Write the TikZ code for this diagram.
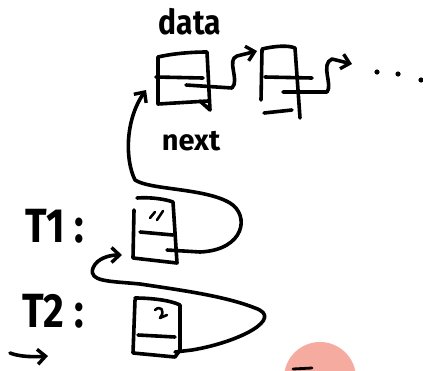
\documentclass[tikz,border=0pt]{standalone}
\usepackage{fontspec}
\setmainfont{Fira Sans}
\usetikzlibrary{arrows.meta}
\definecolor{blush}{RGB}{246,171,161}
\tikzset{
  pen/.style={line width=3.6pt, line cap=round, line join=round, black},
  ptr/.style={pen, -{Straight Barb[length=8pt,width=15pt,line width=3.4pt]}},
  hand/.style={font=\bfseries\fontsize{#1}{#1}\selectfont, inner sep=0pt, anchor=center},
}
\begin{document}
\begin{tikzpicture}[x=1pt, y=-1pt]
\useasboundingbox (0,0) rectangle (423,370);

% labels
\node[hand=30, yscale=1.15] (lbldata) at (190,22) {data};
\node[hand=29] (lblnext) at (191,141) {next};
\node[hand=40, yscale=1.2] (lblt1) at (55,226) {T1 :};
\node[hand=40, yscale=1.2] (lblt2) at (53,311) {T2 :};

% anchors on the sketched boxes
\coordinate (aIn) at (146,90);
\coordinate (aOut) at (186,85);
\coordinate (bIn) at (257,51);
\coordinate (bOut) at (283,92);
\coordinate (more) at (352,64);
\coordinate (tOneOut) at (167,250);
\coordinate (tOneIn) at (122,255);
\coordinate (tTwoOut) at (175,352);
\coordinate (cue) at (48,356);

% list node A
\draw[pen] (158,57) .. controls (175,53) and (195,52) .. (207,52) -- (210,110) -- (200,101);
\draw[pen] (158,57) -- (158,104) -- (208,101);
\draw[pen] (156,77) -- (203,78);
\draw[ptr] (aOut) -- (232,88) .. controls (240,80) and (226,60) .. (237,56) -- (bIn);

% list node B
\draw[pen] (262,49) .. controls (275,46) and (288,45) .. (295,48) -- (300,118);
\draw[pen] (262,50) -- (261,100);
\draw[pen] (265,77) -- (312,78);
\draw[pen] (264,113) -- (292,110);
\draw[ptr] (bOut) -- (327,92) .. controls (333,85) and (320,64) .. (332,59) -- (more);

% trailing dots
\fill (377,72) circle (2.6pt);
\fill (398,74) circle (2.6pt);
\fill (421,80) circle (2.6pt);

% box T1
\draw[pen] (137,198) .. controls (150,197) and (165,199) .. (173,202) -- (177,263) -- (133,258) -- (134,210);
\draw[pen] (140,232) -- (173,235);
\draw[pen, line width=2.6pt] (150,218) -- (155,212);
\draw[pen, line width=2.6pt] (157,220) -- (163,211);

% box T2
\draw[pen] (135,298) .. controls (150,298) and (170,300) .. (180,305) -- (180,350) -- (175,357) -- (133,353) -- (135,300);
\draw[pen] (138,335) -- (175,337);
\draw[pen, line width=2.6pt] (155,310) .. controls (160,305) and (166,310) .. (160,318) -- (167,315);

% T1 pointer back up to list node A
\draw[ptr] (tOneOut) -- (200,252) .. controls (245,250) and (250,215) .. (230,203)
  .. controls (205,188) and (150,190) .. (135,180)
  .. controls (125,160) and (125,120) .. (aIn);

% T2 pointer to T1
\draw[ptr] (tTwoOut) -- (192,350) .. controls (240,342) and (285,318) .. (255,308)
  .. controls (225,296) and (180,290) .. (140,284)
  .. controls (110,281) and (88,282) .. (93,268)
  .. controls (97,258) and (110,255) .. (tOneIn);

% small cue arrow
\draw[ptr] (10,353) .. controls (20,357) and (35,357) .. (cue);

% pink disc at the lower edge
\fill[blush] (320,378) circle (36pt);
\draw[pen, line width=2.8pt] (293,369) -- (312,368);
\end{tikzpicture}
\end{document}
